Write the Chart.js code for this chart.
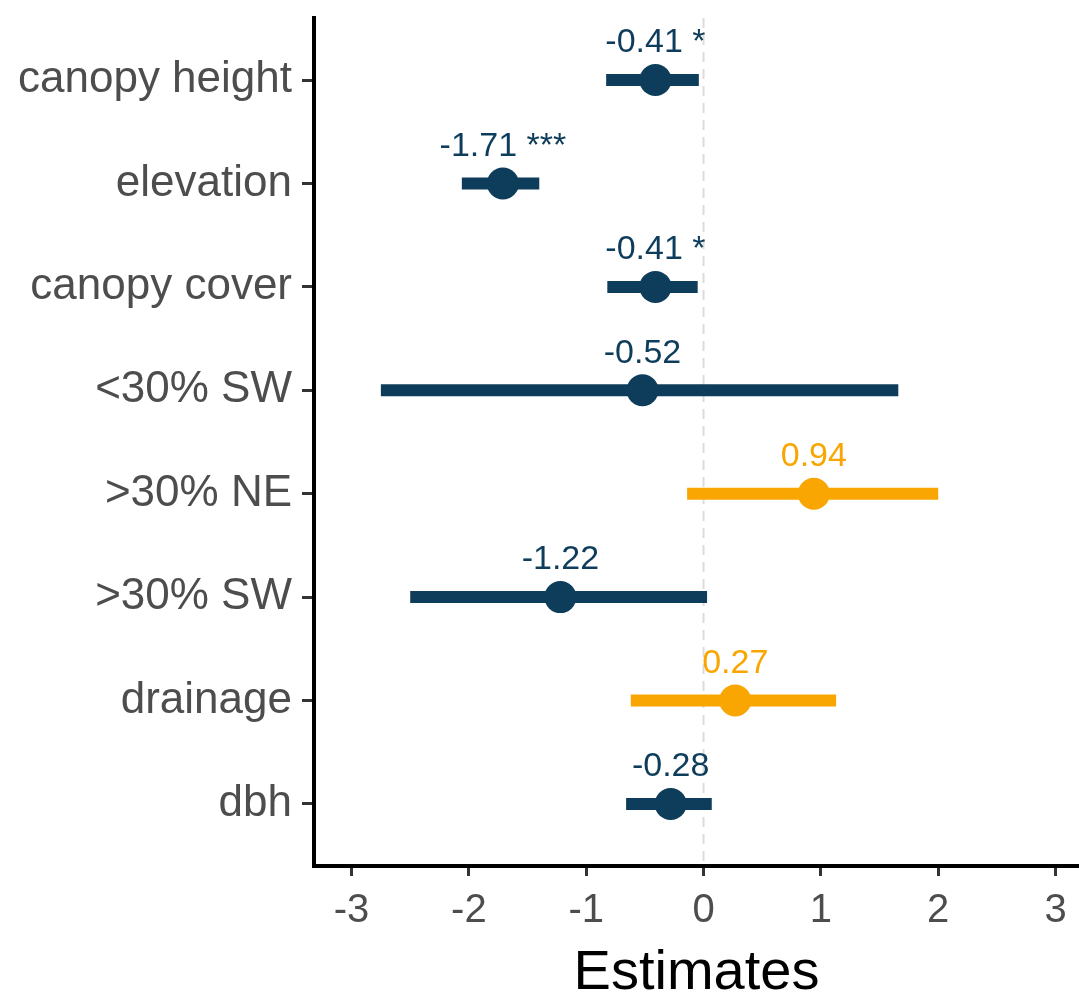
<!DOCTYPE html>
<html lang="en">
<head>
    <meta charset="UTF-8">
    <title>Estimates</title>
    <script src="https://cdn.jsdelivr.net/npm/chart.js"></script>
    <style>
        body { margin: 0; background: #fff; }
    </style>
</head>
<body>
    <canvas id="forest" width="1079" height="994"></canvas>

    <script>
        // model terms, top to bottom
        const terms = ['canopy height', 'elevation', 'canopy cover', '<30% SW', '>30% NE', '>30% SW', 'drainage', 'dbh'];
        const estimates = [-0.41, -1.71, -0.41, -0.52, 0.94, -1.22, 0.27, -0.28];
        const ciLow = [-0.83, -2.06, -0.82, -2.75, -0.14, -2.50, -0.62, -0.66];
        const ciHigh = [-0.04, -1.40, -0.05, 1.66, 2.00, 0.03, 1.13, 0.07];
        const stars = ['*', '***', '*', '', '', '', '', ''];
        const xTicks = [-3, -2, -1, 0, 1, 2, 3];

        const navy = '#0e3d5c';
        const orange = '#f9a602';
        const colorOf = v => v > 0 ? orange : navy;
        const font = 'Liberation Sans, Arial, sans-serif';

        const datasets = [];

        // dashed reference line at zero
        datasets.push({
            data: [{ x: 0, y: 0.4 }, { x: 0, y: 8.6 }],
            showLine: true,
            borderColor: '#dcdcdc',
            borderWidth: 2,
            borderDash: [10, 7],
            pointRadius: 0,
            order: 3
        });

        // confidence intervals
        terms.forEach((t, i) => {
            datasets.push({
                data: [{ x: ciLow[i], y: i + 1 }, { x: ciHigh[i], y: i + 1 }],
                showLine: true,
                borderColor: colorOf(estimates[i]),
                borderWidth: 12,
                borderCapStyle: 'butt',
                pointRadius: 0,
                order: 2
            });
        });

        // point estimates
        datasets.push({
            data: estimates.map((e, i) => ({ x: e, y: i + 1 })),
            pointRadius: 16,
            pointBackgroundColor: estimates.map(colorOf),
            pointBorderWidth: 0,
            order: 1
        });

        // value labels above the points
        const labelPlugin = {
            id: 'valueLabels',
            afterDatasetsDraw(chart) {
                const { ctx, scales } = chart;
                ctx.save();
                ctx.font = '34px ' + font;
                ctx.textAlign = 'center';
                ctx.textBaseline = 'middle';
                estimates.forEach((e, i) => {
                    const txt = e.toFixed(2) + (stars[i] ? ' ' + stars[i] : '');
                    ctx.fillStyle = colorOf(e);
                    ctx.fillText(txt, scales.x.getPixelForValue(e), scales.y.getPixelForValue(i + 1) - 37);
                });
                ctx.restore();
            }
        };

        new Chart(document.getElementById('forest'), {
            type: 'scatter',
            data: { datasets: datasets },
            plugins: [labelPlugin],
            options: {
                responsive: false,
                animation: false,
                layout: { autoPadding: false, padding: { top: 18, left: 14, right: 0, bottom: 0 } },
                plugins: { legend: { display: false }, tooltip: { enabled: false } },
                scales: {
                    x: {
                        type: 'linear',
                        min: -3.32,
                        max: 3.2,
                        afterBuildTicks: s => { s.ticks = xTicks.map(v => ({ value: v })); },
                        afterFit: s => { s.height = 128; s.paddingLeft = 0; s.paddingRight = 0; },
                        grid: { drawOnChartArea: false, tickLength: 10, tickColor: '#333', tickWidth: 3 },
                        border: { color: '#000', width: 4 },
                        ticks: { color: '#4d4d4d', font: { family: font, size: 40 }, padding: 11 },
                        title: {
                            display: true,
                            text: 'Estimates',
                            color: '#000',
                            font: { family: font, size: 56, lineHeight: 1 },
                            padding: { top: 0, bottom: -8 }
                        }
                    },
                    y: {
                        type: 'linear',
                        reverse: true,
                        min: 0.4,
                        max: 8.6,
                        afterBuildTicks: s => { s.ticks = terms.map((t, i) => ({ value: i + 1 })); },
                        afterFit: s => { s.width = 300; s.paddingTop = 0; s.paddingBottom = 0; },
                        grid: { drawOnChartArea: false, tickLength: 12, tickColor: '#333', tickWidth: 3 },
                        border: { color: '#000', width: 4 },
                        ticks: {
                            color: '#4d4d4d',
                            font: { family: font, size: 44 },
                            padding: 10,
                            callback: v => terms[v - 1]
                        }
                    }
                }
            }
        });
    </script>
</body>
</html>
